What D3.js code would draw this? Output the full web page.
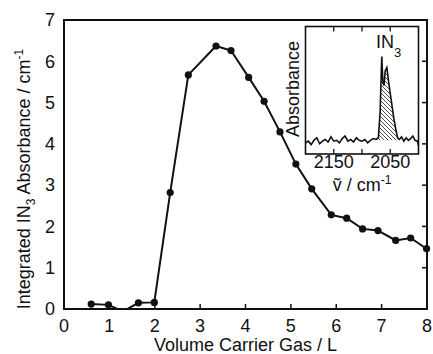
<!doctype html>
<html lang="en">
<head>
<meta charset="utf-8">
<title>Integrated IN3 absorbance vs carrier gas volume</title>
<script src="https://cdn.jsdelivr.net/npm/d3@7"></script>
<style>
  body { margin: 0; background: #fff; }
  svg { display: block; }
  text { font-family: "Liberation Sans", Arial, Helvetica, sans-serif; fill: #111; }
</style>
</head>
<body>
<svg width="433" height="354"></svg>
<script>
// main series: volume of carrier gas (L) vs integrated IN3 absorbance (cm^-1)
var volume = [0.6, 0.98, 1.3, 1.64, 1.99, 2.34, 2.74, 3.35, 3.68, 4.07, 4.41, 4.76, 5.11, 5.46, 5.89, 6.23, 6.58, 6.92, 7.31, 7.64, 7.99];
var integrated = [0.12, 0.1, -0.06, 0.15, 0.16, 2.82, 5.67, 6.37, 6.26, 5.61, 5.03, 4.29, 3.51, 2.91, 2.28, 2.2, 1.94, 1.9, 1.66, 1.72, 1.46];
var xTicks = [0, 1, 2, 3, 4, 5, 6, 7, 8];
var yTicks = [0, 1, 2, 3, 4, 5, 6, 7];

// inset spectrum: wavenumber (cm^-1) vs absorbance (arb.)
var wavenumber = [2200, 2195, 2190, 2185, 2180, 2175, 2170, 2165, 2160, 2155, 2150, 2145, 2140, 2135, 2130, 2125, 2120, 2115, 2110, 2105, 2100, 2095, 2090, 2085, 2080, 2075, 2071, 2068, 2066, 2065, 2063, 2061, 2059, 2056, 2053, 2050, 2047, 2044, 2040, 2037, 2034, 2030, 2026, 2022, 2018, 2014, 2010, 2006, 2002, 2000];
var absorbance = [0.00, 0.02, -0.02, 0.03, 0.06, -0.01, 0.02, 0.04, 0.01, 0.07, 0.02, 0.03, 0.00, 0.05, 0.08, 0.02, 0.04, 0.01, 0.06, 0.03, 0.02, 0.04, 0.00, 0.03, 0.05, 0.04, 0.06, 0.35, 0.80, 1.01, 0.70, 0.67, 0.84, 0.88, 0.72, 0.58, 0.44, 0.30, 0.15, 0.06, 0.04, 0.07, 0.02, 0.06, 0.03, 0.05, 0.08, 0.03, 0.02, -0.03];
var bandStart = 2071, bandEnd = 2036;  // hatched IN3 band
var insetTicks = [2150, 2100, 2050];
var insetLabels = [2150, 2050];

var svg = d3.select("svg");
var pLeft = 64, pRight = 427, pTop = 20, pBottom = 309;

var x = d3.scaleLinear().domain([0, 8]).range([pLeft, pRight]);
var y = d3.scaleLinear().domain([0, 7]).range([pBottom, pTop]);

var main = volume.map((v, i) => ({x: v, y: integrated[i]}));

svg.append("clipPath").attr("id", "plotclip")
  .append("rect").attr("x", pLeft - 6).attr("y", pTop).attr("width", pRight - pLeft + 12).attr("height", pBottom - pTop);

// ticks: bottom and right, pointing inward
svg.append("g").selectAll("line").data(xTicks.slice(1, -1)).enter().append("line")
  .attr("x1", d => x(d)).attr("x2", d => x(d))
  .attr("y1", pBottom).attr("y2", pBottom - 5)
  .attr("stroke", "#111").attr("stroke-width", 1.5);
svg.append("g").selectAll("line").data(yTicks.slice(1, -1)).enter().append("line")
  .attr("x1", pRight).attr("x2", pRight - 5)
  .attr("y1", d => y(d)).attr("y2", d => y(d))
  .attr("stroke", "#111").attr("stroke-width", 1.5);

// tick labels
svg.append("g").selectAll("text").data(xTicks).enter().append("text")
  .attr("x", d => x(d)).attr("y", 332)
  .attr("text-anchor", "middle").style("font-size", "18px")
  .text(d => d);
svg.append("g").selectAll("text").data(yTicks).enter().append("text")
  .attr("x", 55).attr("y", d => y(d)).attr("dy", "0.35em")
  .attr("text-anchor", "end").style("font-size", "18px")
  .text(d => d);

// data line + markers
var g = svg.append("g").attr("clip-path", "url(#plotclip)");
g.append("path").datum(main)
  .attr("d", d3.line().x(d => x(d.x)).y(d => y(d.y)))
  .attr("fill", "none").attr("stroke", "#111").attr("stroke-width", 2);
g.selectAll("circle").data(main).enter().append("circle")
  .attr("cx", d => x(d.x)).attr("cy", d => y(d.y)).attr("r", 3.6)
  .attr("fill", "#111");

// frame
svg.append("rect").attr("x", pLeft).attr("y", pTop)
  .attr("width", pRight - pLeft).attr("height", pBottom - pTop)
  .attr("fill", "none").attr("stroke", "#111").attr("stroke-width", 2);

// axis titles
svg.append("text").attr("x", (pLeft + pRight) / 2).attr("y", 351)
  .attr("text-anchor", "middle").style("font-size", "18px")
  .text("Volume Carrier Gas / L");

var yt = svg.append("text")
  .attr("transform", "translate(30,179) rotate(-90)")
  .attr("text-anchor", "middle").style("font-size", "18px");
yt.append("tspan").text("Integrated IN");
yt.append("tspan").attr("dy", 5).style("font-size", "12px").text("3");
yt.append("tspan").attr("dy", -5).text(" Absorbance / cm");
yt.append("tspan").attr("dy", -7).style("font-size", "12px").text("-1");

// ---- inset ----
var iL = 305.5, iR = 418.5, iT = 26.5, iB = 154;
var xi = d3.scaleLinear().domain([2200, 2000]).range([iL, iR]);
var yi = d3.scaleLinear().domain([-0.13, 1.36]).range([iB, iT]);
var spec = wavenumber.map((w, i) => ({w: w, a: absorbance[i]}));

svg.append("rect").attr("x", iL).attr("y", iT).attr("width", iR - iL).attr("height", iB - iT)
  .attr("fill", "#fff");

var pat = svg.append("defs").append("pattern").attr("id", "hatch")
  .attr("patternUnits", "userSpaceOnUse").attr("width", 4).attr("height", 4);
pat.append("path").attr("d", "M-1,-1 L5,5 M-1,3 L1,5 M3,-1 L5,1")
  .attr("stroke", "#222").attr("stroke-width", 0.8);

var band = spec.filter(d => d.w <= bandStart && d.w >= bandEnd);
svg.append("path").datum(band)
  .attr("d", d3.area().x(d => xi(d.w)).y0(yi(0.03)).y1(d => yi(d.a)))
  .attr("fill", "url(#hatch)");

svg.append("path").datum(spec)
  .attr("d", d3.line().x(d => xi(d.w)).y(d => yi(d.a)))
  .attr("fill", "none").attr("stroke", "#111").attr("stroke-width", 1.6);

svg.append("g").selectAll("line").data(insetTicks).enter().append("line")
  .attr("x1", d => xi(d)).attr("x2", d => xi(d))
  .attr("y1", iT).attr("y2", iT + 5)
  .attr("stroke", "#111").attr("stroke-width", 1.3);
svg.append("g").selectAll("line").data(insetTicks).enter().append("line")
  .attr("x1", d => xi(d)).attr("x2", d => xi(d))
  .attr("y1", iB).attr("y2", iB - 5)
  .attr("stroke", "#111").attr("stroke-width", 1.3);

svg.append("rect").attr("x", iL).attr("y", iT).attr("width", iR - iL).attr("height", iB - iT)
  .attr("fill", "none").attr("stroke", "#111").attr("stroke-width", 1.6);

svg.append("g").selectAll("text").data(insetLabels).enter().append("text")
  .attr("x", d => xi(d)).attr("y", 168)
  .attr("text-anchor", "middle").style("font-size", "18px")
  .text(d => d);

var xl = svg.append("text").attr("x", 362).attr("y", 191)
  .attr("text-anchor", "middle").style("font-size", "18px");
xl.append("tspan").text("\u1E7D / cm");
xl.append("tspan").attr("dy", -7).style("font-size", "12px").text("-1");

svg.append("text").attr("transform", "translate(299,89) rotate(-90)")
  .attr("text-anchor", "middle").style("font-size", "18px")
  .text("Absorbance");

var lab = svg.append("text").attr("x", 376).attr("y", 48).style("font-size", "18px");
lab.append("tspan").text("IN");
lab.append("tspan").attr("dy", 9).style("font-size", "13px").text("3");
</script>
</body>
</html>
